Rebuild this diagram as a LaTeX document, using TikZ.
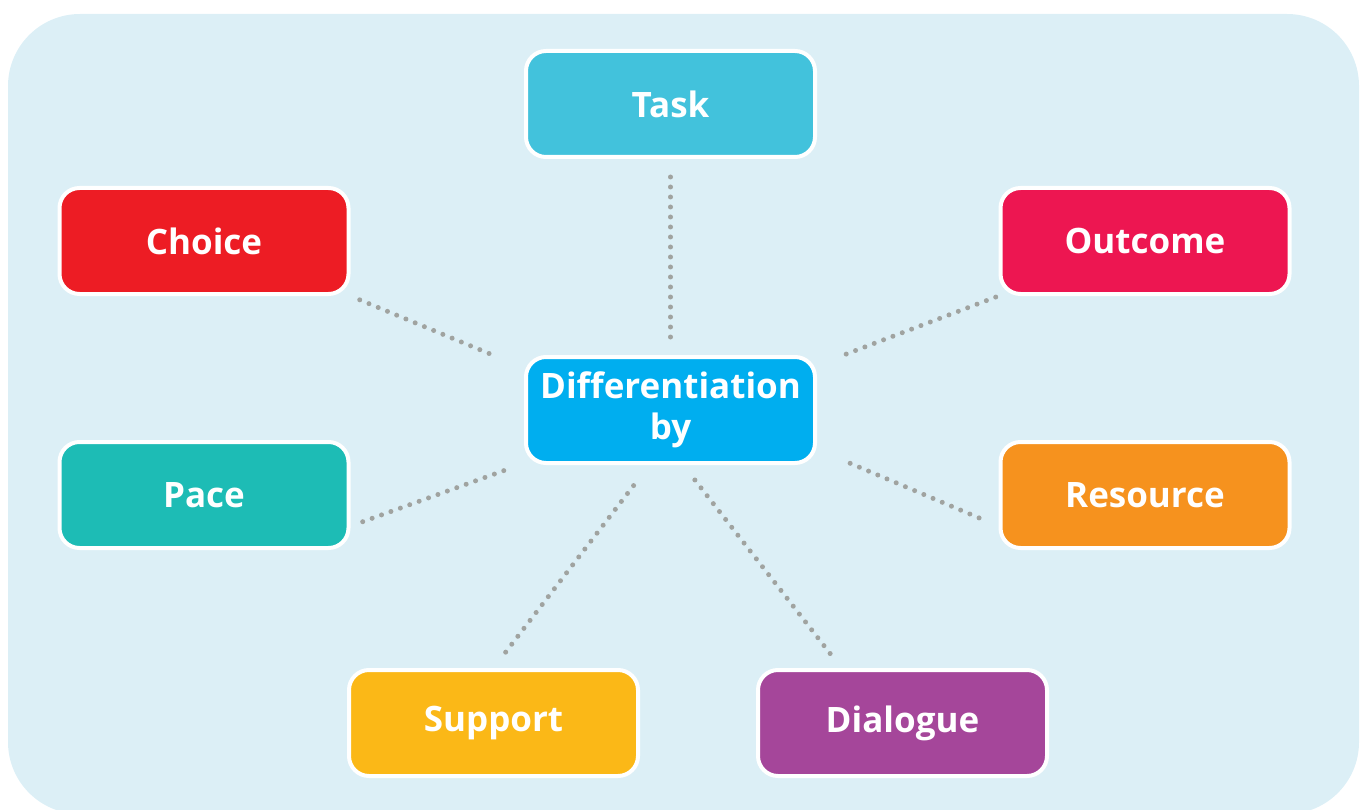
\documentclass[tikz,border=0pt]{standalone}
\usepackage{fontspec}
\setmainfont{Open Sans}
\usetikzlibrary{calc}
\definecolor{bgblue}{HTML}{DCEFF6}
\definecolor{ctask}{HTML}{42C2DC}
\definecolor{cchoice}{HTML}{ED1C24}
\definecolor{coutcome}{HTML}{ED1651}
\definecolor{chub}{HTML}{00AEEF}
\definecolor{cpace}{HTML}{1DBCB5}
\definecolor{cresource}{HTML}{F6921E}
\definecolor{csupport}{HTML}{FBB817}
\definecolor{cdialogue}{HTML}{A5469A}
\definecolor{dotgray}{HTML}{A0A3A0}
\tikzset{
  box/.style={draw=white, line width=4pt, rounded corners=20pt,
    minimum width=289pt, minimum height=106pt, inner sep=0pt,
    text=white, align=center,
    font=\fontsize{35}{41}\selectfont\bfseries},
  conn/.style={draw=dotgray, line width=5pt, line cap=round,
    dash pattern=on 0pt off 10pt}
}
\begin{document}
\begin{tikzpicture}[x=1pt,y=-1pt]
\useasboundingbox (0,0) rectangle (1362,810);
\fill[bgblue, rounded corners=72pt] (8,14) rectangle (1359,814);
\node[box, fill=ctask] (task) at (670.5,104) {Task};
\node[box, fill=cchoice] (choice) at (204,241) {Choice};
\node[box, fill=coutcome] (outcome) at (1145,241) {Outcome};
\node[box, fill=chub] (hub) at (670.5,410) {Differentiation\\by};
\node[box, fill=cpace] (pace) at (204,495) {Pace};
\node[box, fill=cresource] (resource) at (1145,495) {Resource};
\node[box, fill=csupport] (support) at (493.5,723) {Support};
\node[box, fill=cdialogue] (dialogue) at (902.5,723) {Dialogue};
\draw[conn, shorten <=18pt, shorten >=14pt] (task.south) -- (hub.north);
\draw[conn, shorten <=10pt, shorten >=28pt] (choice.south east) -- (hub.164);
\draw[conn, shorten <=3pt, shorten >=24pt] (outcome.south west) -- (hub.17.6);
\draw[conn, shorten <=13pt, shorten >=18pt] (pace.-12.7) -- (hub.-160.6);
\draw[conn, shorten <=36pt, shorten >=17pt] (hub.-15.7) -- (resource.-168.7);
\draw[conn, shorten <=20pt, shorten >=18pt] (support.north) -- (hub.-111.2);
\draw[conn, shorten <=19pt, shorten >=18pt] (hub.-77) -- (dialogue.138.7);
\end{tikzpicture}
\end{document}
